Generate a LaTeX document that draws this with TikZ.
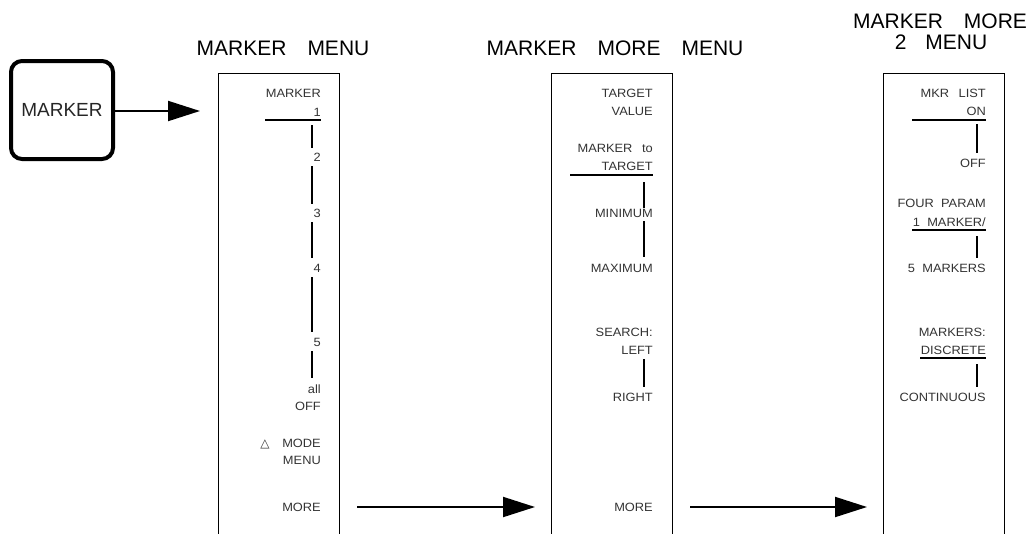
\documentclass[tikz,border=0pt]{standalone}
\usepackage{fontspec}
\setmainfont{Liberation Sans}
\newfontfamily\smfont{Liberation Sans}[FakeStretch=1.07]
\newfontfamily\dvfont{DejaVu Sans}
\usetikzlibrary{arrows.meta}
\tikzset{
  itm/.style={font=\smfont\fontsize{12}{14}\selectfont, anchor=base east, inner sep=0pt, text=black!80},
  ttl/.style={font=\fontsize{21}{24}\selectfont, anchor=base, inner sep=0pt, align=center},
  menubox/.style={line width=0.9pt},
  vl/.style={line width=1.1pt},
  ul/.style={line width=1.2pt},
  arr/.style={line width=2pt, -{Triangle[length=32pt,width=20pt]}},
  keybox/.style={draw, line width=4pt, rounded corners=11pt, minimum width=102pt, minimum height=98pt, font=\fontsize{19}{22}\selectfont, text=black!85}
}
\begin{document}
\begin{tikzpicture}[x=1pt,y=-1pt]
\useasboundingbox (0,0) rectangle (1032,533);
% key
\node[keybox] (key) at (62,110) {MARKER};
\coordinate (t1) at (200,111);
\draw[arr] (key.east |- t1) -- (t1);

% boxes
\draw[menubox] (218,540) -- (218,73) -- (339,73) -- (339,540);
\draw[menubox] (551,540) -- (551,73) -- (672,73) -- (672,540);
\draw[menubox] (883,540) -- (883,73) -- (1004,73) -- (1004,540);

% titles
\node[ttl] (ttl1) at (283,55) {MARKER\hspace{1.0em}MENU};
\node[ttl] (ttl2) at (615,55) {MARKER\hspace{1.0em}MORE\hspace{1.0em}MENU};
\node[ttl] (ttl3a) at (940,28) {MARKER\hspace{1.0em}MORE};
\node[ttl] (ttl3b) at (941,49) {2\hspace{0.9em}MENU};

% box 1
\node[itm] (b1a) at (321,97.5) {MARKER};
\node[itm] (b1b) at (321,116.5) {1};
\draw[ul] (265,120) -- (321,120);
\node[itm] (b1c) at (321,161.5) {2};
\node[itm] (b1d) at (321,217.5) {3};
\node[itm] (b1e) at (321,272.5) {4};
\node[itm] (b1f) at (321,346.5) {5};
\node[itm] (b1g) at (321,393) {all};
\node[itm] (b1h) at (321,410.5) {OFF};
\node[itm] (b1i) at (321,447.5) {MODE};
\node[itm] (b1j) at (321,464.5) {MENU};
\node[font=\dvfont\fontsize{12}{14}\selectfont, text=black!80, inner sep=0pt] (b1tri) at (265,444) {△};
\node[itm] (b1more) at (321,511.5) {MORE};
\draw[vl] (312,125) -- (312,148);
\draw[vl] (312,166) -- (312,204);
\draw[vl] (312,222) -- (312,258);
\draw[vl] (312,277) -- (312,332);
\draw[vl] (312,351) -- (312,378);

% box 2
\node[itm] (b2a) at (653,97.5) {TARGET};
\node[itm] (b2b) at (653,115.5) {VALUE};
\node[itm] (b2c) at (653,152.5) {MARKER\hspace{0.8em}to};
\node[itm] (b2d) at (653,170.5) {TARGET};
\draw[ul] (570,175) -- (653,175);
\node[itm] (b2e) at (653,217.5) {MINIMUM};
\node[itm] (b2f) at (653,272.5) {MAXIMUM};
\node[itm] (b2g) at (653,336.5) {SEARCH:};
\node[itm] (b2h) at (653,354.5) {LEFT};
\node[itm] (b2i) at (653,401.5) {RIGHT};
\node[itm] (b2more) at (653,511.5) {MORE};
\draw[vl] (644,182) -- (644,208);
\draw[vl] (644,221) -- (644,257);
\draw[vl] (644,359) -- (644,387);

% box 3
\node[itm] (b3a) at (986,97.5) {MKR\hspace{0.8em}LIST};
\node[itm] (b3b) at (986,115.5) {ON};
\draw[ul] (912,120) -- (986,120);
\node[itm] (b3c) at (986,167.5) {OFF};
\node[itm] (b3d) at (986,207.5) {FOUR\hspace{0.6em}PARAM};
\node[itm] (b3e) at (986,226.5) {1\hspace{0.6em}MARKER/};
\draw[ul] (912,230) -- (986,230);
\node[itm] (b3f) at (986,272.5) {5\hspace{0.6em}MARKERS};
\node[itm] (b3g) at (986,336.5) {MARKERS:};
\node[itm] (b3h) at (986,354.5) {DISCRETE};
\draw[ul] (920,358) -- (986,358);
\node[itm] (b3i) at (986,401.5) {CONTINUOUS};
\draw[vl] (977,124) -- (977,153);
\draw[vl] (977,236) -- (977,258);
\draw[vl] (977,364) -- (977,387);

% MORE arrows
\coordinate (s1) at (357,507);
\coordinate (e1) at (535,507);
\coordinate (s2) at (690,507);
\coordinate (e2) at (867,507);
\draw[arr] (s1) -- (e1);
\draw[arr] (s2) -- (e2);
\end{tikzpicture}
\end{document}
